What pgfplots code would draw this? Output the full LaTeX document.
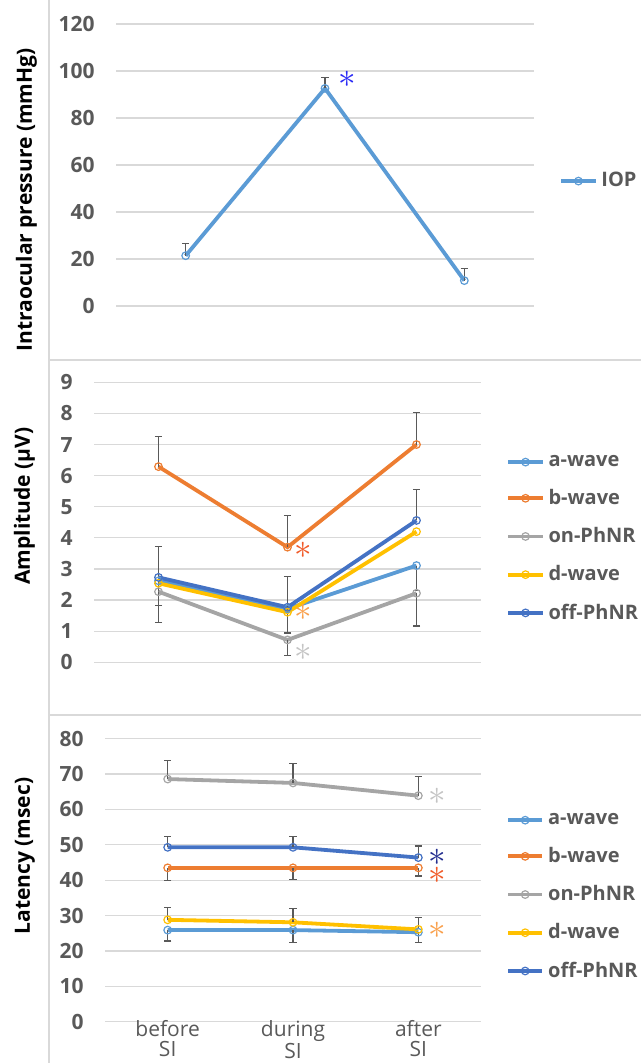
\documentclass[border=0pt]{standalone}
\usepackage{fontspec}
\setmainfont{Open Sans}
\usepackage{graphicx}
\usepackage{pgfplots}
\pgfplotsset{compat=1.18}

\definecolor{cA}{HTML}{5B9BD5}
\definecolor{cB}{HTML}{ED7D31}
\definecolor{cOn}{HTML}{A5A5A5}
\definecolor{cD}{HTML}{FFC000}
\definecolor{cOff}{HTML}{4472C4}
\definecolor{gridc}{HTML}{D9D9D9}
\definecolor{tickc}{HTML}{595959}
\definecolor{errc}{HTML}{595959}
\definecolor{starblue}{HTML}{2A2AF5}
\definecolor{starred}{HTML}{F05A28}
\definecolor{starorange}{HTML}{F9A04C}
\definecolor{stargray}{HTML}{C4C4C4}
\definecolor{starnavy}{HTML}{232E8F}

\pgfplotsset{
  panel/.style={
    scale only axis,
    xmin=-0.5, xmax=2.5,
    axis line style={draw=none},
    major tick length=0pt,
    ymajorgrids,
    grid style={gridc, line width=0.6pt},
    yticklabel style={font=\fontsize{10.5}{12}\selectfont\bfseries, text=tickc, anchor=east, inner sep=0pt, xshift=-10.5pt},
    /pgf/number format/assume math mode=true,
    clip=false,
    legend cell align=left,
    legend style={draw=none, fill=none, inner sep=0pt, anchor=west, row sep=6pt,
      font=\fontsize{10}{11}\selectfont\bfseries, text=tickc},
  },
  ser/.style={color=#1, line width=1.9pt, mark=o,
    mark options={solid, line width=0.6pt, fill=white, draw=#1, mark size=1.9pt}},
  ebar/.style={error bars/.cd, y dir=#1, y explicit,
    error bar style={errc, line width=0.6pt},
    error mark options={errc, rotate=90, mark size=1.8pt, line width=0.6pt}},
}
\tikzset{sig/.style={inner sep=0pt, text=#1}}
\newcommand{\sigstar}{\scalebox{1.75}{$\ast$}}

\begin{document}
\begin{tikzpicture}
\useasboundingbox (0,0) rectangle (320.5pt,-531.5pt);
% panel borders
\draw[gridc, line width=0.6pt] (24.5pt,0pt) -- (24.5pt,-531.5pt);
\draw[gridc, line width=0.6pt] (24.5pt,-180pt) -- (320.5pt,-180pt);
\draw[gridc, line width=0.6pt] (24.5pt,-357.5pt) -- (320.5pt,-357.5pt);

% y labels
\node[rotate=90, font=\fontsize{10.5}{12}\selectfont\bfseries] at (13.25pt,-100pt) {Intraocular pressure (mmHg)};
\node[rotate=90, font=\fontsize{10.5}{12}\selectfont\bfseries] at (12.25pt,-253pt) {Amplitude (µV)};
\node[rotate=90, font=\fontsize{10.5}{12}\selectfont\bfseries] at (12.5pt,-428pt) {Latency (msec)};

% ---------- top panel ----------
\begin{axis}[panel,
  at={(58pt,-153pt)}, anchor=south west,
  width=209pt, height=141pt,
  ymin=0, ymax=120, ytick={0,20,...,120},
  xtick=\empty,
  legend style={at={(rel axis cs:1.06,0.443)}},
]
\addplot+[ser=cA, ebar=plus] coordinates {
  (0,21.4) +- (0,5.1)
  (1,92.6) +- (0,4.7)
  (2,10.8) +- (0,5.1)
};
\addlegendentry{IOP}
\node[sig=starblue] at (axis cs:1.16,96.6) {\sigstar};
\end{axis}

% ---------- middle panel ----------
\begin{axis}[panel,
  at={(47pt,-331.15pt)}, anchor=south west,
  width=193.5pt, height=140pt,
  ymin=0, ymax=9, ytick={0,1,...,9},
  xtick=\empty,
  legend style={at={(rel axis cs:1.065,0.442)}},
]
\addplot+[ser=cA, ebar=minus] coordinates {
  (0,2.62) +- (0,0.8)
  (1,1.72) +- (0,0.78)
  (2,3.11) +- (0,0.8)
};
\addlegendentry{a-wave}
\addplot+[ser=cB, ebar=plus] coordinates {
  (0,6.29) +- (0,0.98)
  (1,3.70) +- (0,1.02)
  (2,7.00) +- (0,1.02)
};
\addlegendentry{b-wave}
\addplot+[ser=cOn, ebar=minus] coordinates {
  (0,2.27) +- (0,0.98)
  (1,0.72) +- (0,0.49)
  (2,2.22) +- (0,1.05)
};
\addlegendentry{on-PhNR}
\addplot+[ser=cD] coordinates {
  (0,2.54)
  (1,1.61)
  (2,4.20)
};
\addlegendentry{d-wave}
\addplot+[ser=cOff, ebar=plus] coordinates {
  (0,2.73) +- (0,0.99)
  (1,1.77) +- (0,0.98)
  (2,4.56) +- (0,1.00)
};
\addlegendentry{off-PhNR}
\node[sig=starred] at (axis cs:1.12,3.59) {\sigstar};
\node[sig=starorange] at (axis cs:1.12,1.62) {\sigstar};
\node[sig=stargray] at (axis cs:1.12,0.33) {\sigstar};
\end{axis}

% ---------- bottom panel ----------
\begin{axis}[panel,
  at={(52.5pt,-510.85pt)}, anchor=south west,
  width=188pt, height=141.5pt,
  ymin=0, ymax=80, ytick={0,10,...,80},
  xtick={0,1,2},
  xticklabels={{before\\SI},{during\\SI},{after\\SI}},
  xticklabel style={align=center, font=\fontsize{10.5}{10}\selectfont, text=tickc, inner sep=0pt, yshift=1pt},
  legend style={at={(rel axis cs:1.066,0.442)}},
]
\addplot+[ser=cA, ebar=minus] coordinates {
  (0,25.9) +- (0,3.1)
  (1,25.9) +- (0,3.5)
  (2,25.3) +- (0,2.9)
};
\addlegendentry{a-wave}
\addplot+[ser=cB, ebar=minus] coordinates {
  (0,43.5) +- (0,3.6)
  (1,43.5) +- (0,3.3)
  (2,43.5) +- (0,2.3)
};
\addlegendentry{b-wave}
\addplot+[ser=cOn, ebar=plus] coordinates {
  (0,68.6) +- (0,5.3)
  (1,67.5) +- (0,5.4)
  (2,63.9) +- (0,5.4)
};
\addlegendentry{on-PhNR}
\addplot+[ser=cD, ebar=plus] coordinates {
  (0,28.8) +- (0,3.4)
  (1,28.1) +- (0,3.8)
  (2,26.1) +- (0,3.4)
};
\addlegendentry{d-wave}
\addplot+[ser=cOff, ebar=plus] coordinates {
  (0,49.3) +- (0,3.1)
  (1,49.3) +- (0,3.1)
  (2,46.4) +- (0,3.3)
};
\addlegendentry{off-PhNR}
\node[sig=stargray] at (axis cs:2.15,63.7) {\sigstar};
\node[sig=starnavy] at (axis cs:2.15,46.4) {\sigstar};
\node[sig=starred] at (axis cs:2.15,41.3) {\sigstar};
\node[sig=starorange] at (axis cs:2.15,25.9) {\sigstar};
\end{axis}
\end{tikzpicture}
\end{document}
